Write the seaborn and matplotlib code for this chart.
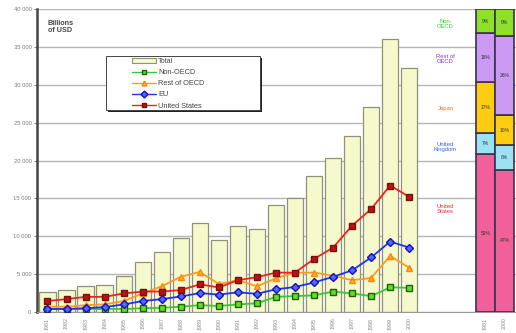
import numpy as np
import pandas as pd
import matplotlib
matplotlib.use("Agg")
import matplotlib.pyplot as plt
import seaborn as sns
from matplotlib.patches import Patch, Rectangle
from matplotlib.lines import Line2D

# data, billions of USD
years = [str(y) for y in range(1981, 2001)]
total = [2700, 2900, 3500, 3550, 4800, 6600, 7900, 9800, 11800, 9500,
         11400, 11000, 14100, 15100, 17900, 20300, 23200, 27000, 36000, 32200]
united_states = [1450, 1700, 2000, 2000, 2450, 2700, 2700, 2900, 3650, 3250,
                 4200, 4600, 5200, 5200, 7000, 8500, 11400, 13600, 16700, 15200]
eu = [400, 400, 500, 650, 1000, 1450, 1700, 2050, 2500, 2300,
      2600, 2400, 3000, 3300, 3900, 4650, 5500, 7200, 9300, 8500]
rest_of_oecd = [700, 700, 900, 1000, 1450, 2450, 3400, 4650, 5300, 3700,
                4200, 3400, 4450, 5200, 5200, 4800, 4200, 4500, 7400, 5850]
non_oecd = [400, 400, 400, 400, 400, 500, 550, 700, 900, 800,
            1000, 1150, 2000, 2100, 2200, 2700, 2450, 2100, 3250, 3200]

# share of total, 1981 vs 2000 (percent)
share_years = ["1981", "2000"]
share_groups = ["United\nStates", "United\nKingdom", "Japan", "Rest of\nOECD", "Non-\nOECD"]
share_1981 = [52, 7, 17, 16, 8]
share_2000 = [47, 8, 10, 26, 9]
share_labels_1981 = ["52%", "7%", "17%", "18%", "9%"]
share_labels_2000 = ["47%", "8%", "10%", "26%", "9%"]
share_colors = ["#f2609a", "#9be3f2", "#ffcc11", "#cc9af2", "#8ee02a"]
group_text_colors = ["#e03030", "#3366dd", "#f07020", "#8833cc", "#33cc33"]

sns.set_style("white")
plt.rcParams["font.family"] = ["Liberation Sans", "DejaVu Sans"]

fig = plt.figure(figsize=(5.16, 3.33), dpi=100)
ax = fig.add_axes([0.0717, 0.063, 0.928, 0.910])

df = pd.DataFrame({"year": years, "total": total})
sns.barplot(data=df, x="year", y="total", order=years, color="#f6f9cc",
            edgecolor="#8f9178", linewidth=0.9, width=0.85, saturation=1, ax=ax,
            zorder=2)

xs = np.arange(len(years))
series = [
    (non_oecd, "Non-OECD", "#33cc33", "s", "#66dd22", "#1d5e10"),
    (rest_of_oecd, "Rest of OECD", "#ff9922", "^", "#ffb040", "#ff8800"),
    (eu, "EU", "#2233ee", "D", "#5566ff", "#1111bb"),
    (united_states, "United States", "#ee2222", "s", "#bb1111", "#771111"),
]
for vals, name, col, mk, mfc, mec in series:
    sns.lineplot(x=xs, y=vals, color=col, marker=mk, markersize=4.5,
                 markerfacecolor=mfc, markeredgecolor=mec, markeredgewidth=1.0,
                 linewidth=1.3, ax=ax, zorder=3)

ax.set_ylim(0, 40000)
ax.set_xlim(-0.55, 24.6)
ax.set_yticks(range(0, 40001, 5000))
ax.set_yticklabels([f"{v // 1000} 000" if v else "0" for v in range(0, 40001, 5000)],
                   fontsize=4.2, color="#777777")
ax.yaxis.grid(True, color="#b5b5b5", linewidth=1.0, zorder=0)
ax.set_axisbelow(True)
ax.set_xticks(list(xs) + [23, 24])
ax.set_xticklabels(years + share_years, rotation=90, fontsize=3.8, color="#888888")
ax.tick_params(axis="both", length=2, pad=2, color="#888888")
ax.set_xlabel("")
ax.set_ylabel("")
for s in ["top", "right"]:
    ax.spines[s].set_visible(False)
ax.spines["left"].set_color("#444444")
ax.spines["left"].set_linewidth(1.8)
ax.spines["bottom"].set_color("#999999")

ax.text(0.022, 0.965, "Billions\nof USD", transform=ax.transAxes, fontsize=5.2,
        fontweight="bold", color="#444444", va="top", ha="left", linespacing=1.1)

# legend box with a hard black shadow, drawn by hand
ax.add_patch(Rectangle((0.148, 0.660), 0.322, 0.178, transform=ax.transAxes,
                       facecolor="#222222", edgecolor="none", zorder=5))
ax.add_patch(Rectangle((0.144, 0.667), 0.322, 0.178, transform=ax.transAxes,
                       facecolor="white", edgecolor="#444444", linewidth=0.7, zorder=6))

handles = [Patch(facecolor="#f6f9cc", edgecolor="#8f9178", linewidth=0.8)]
for vals, name, col, mk, mfc, mec in series:
    handles.append(Line2D([], [], color=col, marker=mk, markersize=3.5,
                          markerfacecolor=mfc, markeredgecolor=mec, linewidth=1.0))
leg = ax.legend(handles, ["Total", "Non-OECD", "Rest of OECD", "EU", "United States"],
                loc="upper left", bbox_to_anchor=(0.195, 0.842), fontsize=5.3,
                frameon=False, borderpad=0.2, labelspacing=0.55,
                handlelength=3.3, handleheight=0.6, handletextpad=0.3,
                borderaxespad=0)
leg.set_zorder(7)
for t in leg.get_texts():
    t.set_color("#444444")

# stacked shares on a 0-100 scale
ax2 = ax.twinx()
ax2.set_ylim(0, 100)
ax2.set_xlim(ax.get_xlim())
for pos, shares, labs in [(23, share_1981, share_labels_1981), (24, share_2000, share_labels_2000)]:
    bottom = 0
    for val, lab, colr in zip(shares, labs, share_colors):
        ax2.bar(pos, val, bottom=bottom, width=1.0, color=colr,
                edgecolor="#3a3050", linewidth=1.2)
        ax2.text(pos, bottom + val / 2, lab, ha="center", va="center",
                 fontsize=3.6, color="#333333")
        bottom += val

group_y = [34, 54.5, 67, 83.5, 95]
for name, gy, tc in zip(share_groups, group_y, group_text_colors):
    ax2.text(20.9, gy, name, ha="center", va="center", fontsize=4.2,
             color=tc, linespacing=1.0)
ax2.set_yticks([])
for s in ax2.spines.values():
    s.set_visible(False)

fig.savefig("out.png", dpi=100)
